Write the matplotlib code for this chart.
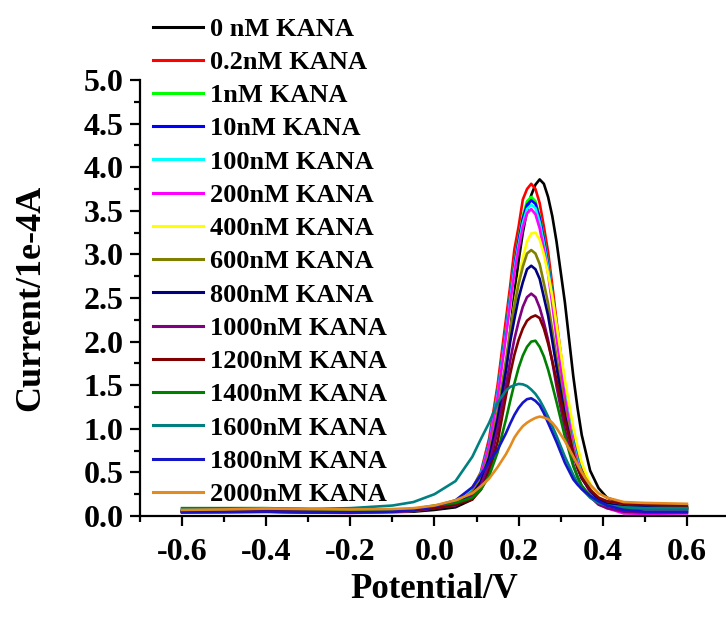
import matplotlib
matplotlib.use("Agg")
import matplotlib.pyplot as plt
from matplotlib.ticker import MultipleLocator

plt.rcParams["font.family"] = ["Liberation Serif", "DejaVu Serif"]
plt.rcParams["font.weight"] = "bold"

# potential grid (V) shared by all curves
potential = [-0.6, -0.5, -0.4, -0.3, -0.2, -0.1, -0.05, 0.0, 0.05, 0.09, 0.11, 0.13,
             0.15, 0.17, 0.18, 0.19, 0.20, 0.21, 0.22, 0.23, 0.24, 0.25, 0.26, 0.27,
             0.28, 0.29, 0.31, 0.33, 0.34, 0.35, 0.37, 0.39, 0.41, 0.45, 0.5, 0.6]

# current (1e-4 A)
cur_0 = [0.05, 0.05, 0.05, 0.045, 0.04, 0.045, 0.05, 0.07, 0.10, 0.19, 0.33, 0.55,
         1.00, 1.70, 2.12, 2.55, 2.93, 3.25, 3.50, 3.68, 3.80, 3.86, 3.81, 3.66,
         3.44, 3.15, 2.45, 1.60, 1.24, 0.93, 0.52, 0.32, 0.21, 0.14, 0.11, 0.10]
cur_02 = [0.05, 0.05, 0.05, 0.045, 0.045, 0.05, 0.065, 0.11, 0.16, 0.32, 0.50, 0.89,
          1.50, 2.26, 2.64, 3.06, 3.32, 3.63, 3.75, 3.81, 3.75, 3.59, 3.32, 3.03,
          2.65, 2.24, 1.50, 0.90, 0.70, 0.53, 0.34, 0.21, 0.155, 0.11, 0.09, 0.08]
cur_1 = [0.06, 0.06, 0.065, 0.06, 0.055, 0.07, 0.08, 0.11, 0.16, 0.31, 0.49, 0.85,
         1.43, 2.15, 2.54, 2.90, 3.19, 3.44, 3.61, 3.66, 3.61, 3.44, 3.20, 2.91,
         2.55, 2.15, 1.43, 0.86, 0.66, 0.50, 0.32, 0.20, 0.14, 0.10, 0.08, 0.07]
cur_10 = [0.05, 0.05, 0.05, 0.045, 0.045, 0.055, 0.07, 0.10, 0.15, 0.30, 0.48, 0.84,
          1.41, 2.12, 2.51, 2.87, 3.16, 3.41, 3.57, 3.62, 3.58, 3.42, 3.17, 2.88,
          2.52, 2.13, 1.42, 0.85, 0.65, 0.49, 0.31, 0.19, 0.13, 0.09, 0.07, 0.06]
cur_100 = [0.05, 0.05, 0.055, 0.05, 0.045, 0.055, 0.07, 0.10, 0.15, 0.30, 0.47, 0.82,
           1.39, 2.09, 2.48, 2.83, 3.11, 3.36, 3.52, 3.57, 3.53, 3.37, 3.12, 2.84,
           2.49, 2.10, 1.40, 0.83, 0.64, 0.48, 0.31, 0.18, 0.13, 0.09, 0.07, 0.06]
cur_200 = [0.04, 0.04, 0.045, 0.04, 0.035, 0.045, 0.06, 0.09, 0.14, 0.28, 0.46, 0.81,
           1.36, 2.06, 2.44, 2.79, 3.07, 3.31, 3.47, 3.52, 3.46, 3.30, 3.06, 2.78,
           2.43, 2.05, 1.35, 0.80, 0.61, 0.45, 0.27, 0.15, 0.09, 0.03, 0.025, 0.03]
cur_400 = [0.05, 0.05, 0.055, 0.05, 0.045, 0.05, 0.06, 0.095, 0.15, 0.24, 0.39, 0.66,
           1.11, 1.75, 2.09, 2.43, 2.71, 2.96, 3.15, 3.24, 3.25, 3.17, 3.00, 2.78,
           2.52, 2.20, 1.56, 1.01, 0.80, 0.61, 0.37, 0.21, 0.14, 0.07, 0.05, 0.05]
cur_600 = [0.06, 0.06, 0.065, 0.06, 0.055, 0.06, 0.07, 0.105, 0.14, 0.27, 0.42, 0.72,
           1.19, 1.79, 2.12, 2.41, 2.66, 2.86, 3.01, 3.05, 3.01, 2.89, 2.67, 2.44,
           2.13, 1.82, 1.22, 0.75, 0.58, 0.45, 0.30, 0.19, 0.15, 0.11, 0.10, 0.09]
cur_800 = [0.05, 0.05, 0.05, 0.045, 0.045, 0.05, 0.06, 0.09, 0.13, 0.25, 0.39, 0.67,
           1.11, 1.67, 2.00, 2.26, 2.50, 2.68, 2.83, 2.87, 2.83, 2.72, 2.51, 2.30,
           2.01, 1.71, 1.15, 0.71, 0.55, 0.43, 0.29, 0.19, 0.14, 0.11, 0.10, 0.09]
cur_1000 = [0.05, 0.05, 0.05, 0.045, 0.04, 0.05, 0.06, 0.09, 0.12, 0.23, 0.35, 0.60,
            1.00, 1.50, 1.78, 2.03, 2.23, 2.40, 2.51, 2.55, 2.51, 2.39, 2.22, 2.02,
            1.77, 1.49, 0.99, 0.59, 0.45, 0.34, 0.22, 0.13, 0.09, 0.05, 0.04, 0.04]
cur_1200 = [0.06, 0.06, 0.065, 0.06, 0.055, 0.06, 0.07, 0.09, 0.13, 0.19, 0.30, 0.50,
            0.85, 1.38, 1.63, 1.85, 2.02, 2.15, 2.24, 2.28, 2.30, 2.27, 2.15, 1.98,
            1.78, 1.56, 1.10, 0.71, 0.56, 0.44, 0.30, 0.21, 0.17, 0.14, 0.13, 0.12]
cur_1400 = [0.09, 0.09, 0.09, 0.08, 0.07, 0.07, 0.08, 0.12, 0.15, 0.21, 0.30, 0.46,
            0.73, 1.11, 1.32, 1.52, 1.70, 1.84, 1.94, 2.00, 2.01, 1.94, 1.83, 1.68,
            1.50, 1.31, 0.91, 0.57, 0.45, 0.35, 0.23, 0.16, 0.12, 0.09, 0.08, 0.08]
cur_1600 = [0.08, 0.08, 0.085, 0.08, 0.09, 0.12, 0.16, 0.25, 0.40, 0.68, 0.88, 1.07,
            1.30, 1.44, 1.48, 1.50, 1.515, 1.51, 1.49, 1.45, 1.40, 1.33, 1.24, 1.14,
            1.03, 0.92, 0.68, 0.47, 0.38, 0.31, 0.21, 0.15, 0.12, 0.10, 0.09, 0.09]
cur_1800 = [0.04, 0.045, 0.05, 0.045, 0.04, 0.05, 0.07, 0.11, 0.18, 0.33, 0.47, 0.62,
            0.76, 0.95, 1.06, 1.16, 1.24, 1.30, 1.34, 1.35, 1.32, 1.27, 1.18, 1.07,
            0.96, 0.85, 0.61, 0.42, 0.36, 0.31, 0.23, 0.17, 0.12, 0.07, 0.05, 0.05]
cur_2000 = [0.07, 0.075, 0.085, 0.08, 0.075, 0.08, 0.09, 0.12, 0.18, 0.26, 0.34, 0.43,
            0.56, 0.71, 0.80, 0.90, 0.97, 1.03, 1.07, 1.10, 1.125, 1.14, 1.13, 1.11,
            1.07, 1.01, 0.86, 0.68, 0.59, 0.50, 0.36, 0.26, 0.21, 0.16, 0.15, 0.14]

labels = ["0 nM KANA", "0.2nM KANA", "1nM KANA", "10nM KANA", "100nM KANA",
          "200nM KANA", "400nM KANA", "600nM KANA", "800nM KANA", "1000nM KANA",
          "1200nM KANA", "1400nM KANA", "1600nM KANA", "1800nM KANA", "2000nM KANA"]
curves = [cur_0, cur_02, cur_1, cur_10, cur_100, cur_200, cur_400, cur_600, cur_800,
          cur_1000, cur_1200, cur_1400, cur_1600, cur_1800, cur_2000]
colors = ["#000000", "#FF0000", "#00FF00", "#0000FF", "#00FFFF", "#FF00FF", "#FFFF00",
          "#808000", "#000080", "#800080", "#800000", "#008000", "#008080", "#1414C8",
          "#E38B1F"]

fig = plt.figure(figsize=(7.26, 6.17), dpi=100)
ax = fig.add_axes([0.1928, 0.1637, 0.8113, 0.7066])

for ys, lab, col in zip(curves, labels, colors):
    ax.plot(potential, ys, color=col, linewidth=1.9, label=lab,
            solid_joinstyle="round")

ax.set_xlim(-0.7, 0.7)
ax.set_ylim(0, 5.0)
ax.xaxis.set_major_locator(MultipleLocator(0.2))
ax.xaxis.set_minor_locator(MultipleLocator(0.1))
ax.yaxis.set_major_locator(MultipleLocator(0.5))
ax.yaxis.set_minor_locator(MultipleLocator(0.25))
ax.xaxis.set_major_formatter(plt.FuncFormatter(lambda v, p: f"{v:.1f}".replace("-0.0", "0.0")))
ax.yaxis.set_major_formatter(plt.FuncFormatter(lambda v, p: f"{v:.1f}"))

for side in ("top", "right"):
    ax.spines[side].set_visible(False)
for side in ("left", "bottom"):
    ax.spines[side].set_linewidth(1.6)

ax.tick_params(which="major", direction="out", length=7, width=1.6, labelsize=23)
ax.tick_params(axis="x", which="major", pad=9)
ax.tick_params(axis="y", which="major", pad=5)
ax.tick_params(which="minor", direction="out", length=4, width=1.6)
for t in ax.get_xticklabels() + ax.get_yticklabels():
    t.set_fontweight("bold")

ax.set_xlabel("Potential/V", fontsize=25, fontweight="bold", labelpad=4)
ax.set_ylabel("Current/1e-4A", fontsize=26, fontweight="bold", labelpad=26)

leg = ax.legend(loc="upper left", bbox_to_anchor=(0.2107, 0.972),
                bbox_transform=fig.transFigure, frameon=False, fontsize=19,
                handlelength=1.9, handletextpad=0.25, labelspacing=0.37,
                borderpad=0, borderaxespad=0)
for t in leg.get_texts():
    t.set_fontweight("bold")
for h in leg.get_lines():
    h.set_linewidth(2.2)

fig.savefig("out.png", dpi=100)
